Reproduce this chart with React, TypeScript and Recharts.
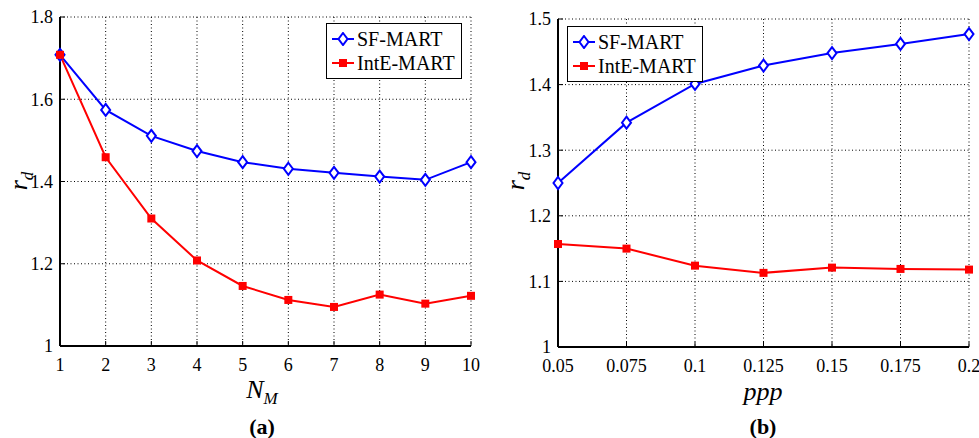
import React from "react";
import { LineChart, Line, XAxis, YAxis, CartesianGrid } from "recharts";

// r_d versus number of MART iterations N_M (panel a)
const nmValues = [1, 2, 3, 4, 5, 6, 7, 8, 9, 10];
const sfMartA = [1.708, 1.574, 1.511, 1.474, 1.447, 1.431, 1.421, 1.412, 1.404, 1.447];
const inteMartA = [1.708, 1.459, 1.31, 1.208, 1.146, 1.112, 1.095, 1.125, 1.103, 1.122];
const yTicksA = [1, 1.2, 1.4, 1.6, 1.8];

// r_d versus particle density ppp (panel b)
const pppValues = [0.05, 0.075, 0.1, 0.125, 0.15, 0.175, 0.2];
const sfMartB = [1.25, 1.342, 1.401, 1.429, 1.448, 1.462, 1.477];
const inteMartB = [1.157, 1.15, 1.124, 1.113, 1.121, 1.119, 1.118];
const yTicksB = [1, 1.1, 1.2, 1.3, 1.4, 1.5];

const SERIES = [
  { key: "sf", name: "SF-MART", color: "#0000ff", marker: "diamond" },
  { key: "inte", name: "IntE-MART", color: "#ff0000", marker: "square" },
];

const FONT = "'Liberation Serif', 'Times New Roman', serif";

const Diamond = (props: any) => {
  const { cx, cy, index } = props;
  if (cx == null || cy == null) return <g key={index} />;
  return (
    <path
      key={index}
      d={`M${cx},${cy - 6}L${cx + 4.5},${cy}L${cx},${cy + 6}L${cx - 4.5},${cy}Z`}
      fill="#fff"
      stroke="#0000ff"
      strokeWidth={2}
    />
  );
};

const Square = (props: any) => {
  const { cx, cy, index } = props;
  if (cx == null || cy == null) return <g key={index} />;
  return <rect key={index} x={cx - 4} y={cy - 4} width={8} height={8} fill="#ff0000" />;
};

function LegendBox({ left, top }: { left: number; top: number }) {
  return (
    <div
      style={{
        position: "absolute",
        left,
        top,
        border: "1px solid #000",
        background: "#fff",
        padding: "3px 6px 3px 5px",
        fontFamily: FONT,
        fontSize: 20,
        lineHeight: "24px",
        color: "#000",
      }}
    >
      {SERIES.map((s) => (
        <div key={s.key} style={{ display: "flex", alignItems: "center" }}>
          <svg width={23} height={14} style={{ marginRight: 2 }}>
            <line x1={0} y1={7} x2={22} y2={7} stroke={s.color} strokeWidth={2} />
            {s.marker === "diamond" ? (
              <path d="M11,1L15.5,7L11,13L6.5,7Z" fill="#fff" stroke={s.color} strokeWidth={2} />
            ) : (
              <rect x={7} y={3} width={8} height={8} fill={s.color} />
            )}
          </svg>
          <span>{s.name}</span>
        </div>
      ))}
    </div>
  );
}

function Panel(props: {
  xs: number[];
  sf: number[];
  inte: number[];
  yTicks: number[];
  width: number;
  margin: { top: number; right: number; left: number; bottom: number };
  yAxisWidth: number;
  xAxisHeight: number;
}) {
  const { xs, sf, inte, yTicks, width, margin, yAxisWidth, xAxisHeight } = props;
  const data = xs.map((x, i) => ({ x, sf: sf[i], inte: inte[i] }));
  const xDomain = [xs[0], xs[xs.length - 1]];
  const yDomain = [yTicks[0], yTicks[yTicks.length - 1]];
  const tick = { fill: "#000", fontSize: 18, fontFamily: FONT };
  const frame = { stroke: "#000", strokeWidth: 2 };
  const tickLine = { stroke: "#000", strokeWidth: 1 };
  return (
    <LineChart width={width} height={438} data={data} margin={margin}>
      <CartesianGrid stroke="#000" strokeDasharray="1 2.5" strokeWidth={1} />
      <XAxis
        dataKey="x"
        type="number"
        domain={xDomain}
        ticks={xs}
        height={xAxisHeight}
        tick={tick}
        tickSize={-5}
        tickMargin={17}
        axisLine={frame}
        tickLine={tickLine}
        interval={0}
      />
      <XAxis
        xAxisId="top"
        orientation="top"
        dataKey="x"
        type="number"
        domain={xDomain}
        ticks={xs}
        height={0}
        tick={false}
        tickSize={-5}
        axisLine={frame}
        tickLine={tickLine}
        interval={0}
      />
      <YAxis
        type="number"
        domain={yDomain}
        ticks={yTicks}
        width={yAxisWidth}
        tick={tick}
        tickSize={-5}
        tickMargin={12}
        axisLine={frame}
        tickLine={tickLine}
        interval={0}
      />
      <YAxis
        yAxisId="right"
        orientation="right"
        type="number"
        domain={yDomain}
        ticks={yTicks}
        width={0}
        tick={false}
        tickSize={-5}
        axisLine={frame}
        tickLine={tickLine}
        interval={0}
      />
      <Line
        dataKey="sf"
        name="SF-MART"
        stroke="#0000ff"
        strokeWidth={2}
        dot={Diamond}
        isAnimationActive={false}
      />
      <Line
        dataKey="inte"
        name="IntE-MART"
        stroke="#ff0000"
        strokeWidth={2}
        dot={Square}
        isAnimationActive={false}
      />
    </LineChart>
  );
}

const abs = (left: number, top: number, extra: React.CSSProperties = {}): React.CSSProperties => ({
  position: "absolute",
  left,
  top,
  transform: "translate(-50%, -50%)",
  fontFamily: FONT,
  color: "#000",
  whiteSpace: "nowrap",
  ...extra,
});

export default function App() {
  return (
    <div
      style={{
        position: "absolute",
        left: 0,
        top: 0,
        width: 979,
        height: 438,
        background: "#fff",
        overflow: "hidden",
      }}
    >
      <div style={{ position: "absolute", left: 0, top: 0 }}>
        <Panel
          xs={nmValues}
          sf={sfMartA}
          inte={inteMartA}
          yTicks={yTicksA}
          width={490}
          margin={{ top: 17, right: 19, left: 0, bottom: 0 }}
          yAxisWidth={60}
          xAxisHeight={92}
        />
      </div>
      <div style={{ position: "absolute", left: 490, top: 0 }}>
        <Panel
          xs={pppValues}
          sf={sfMartB}
          inte={inteMartB}
          yTicks={yTicksB}
          width={489}
          margin={{ top: 19, right: 10, left: 0, bottom: 0 }}
          yAxisWidth={68}
          xAxisHeight={91}
        />
      </div>

      <LegendBox left={326} top={23} />
      <LegendBox left={567} top={26} />

      {/* rotated y labels */}
      <div style={abs(21, 181, { transform: "translate(-50%, -50%) rotate(-90deg)", fontSize: 26, fontStyle: "italic" })}>
        r<sub style={{ fontSize: 17 }}>d</sub>
      </div>
      <div style={abs(518, 181, { transform: "translate(-50%, -50%) rotate(-90deg)", fontSize: 26, fontStyle: "italic" })}>
        r<sub style={{ fontSize: 17 }}>d</sub>
      </div>

      {/* x labels */}
      <div style={abs(262, 392, { fontSize: 26, fontStyle: "italic" })}>
        N<sub style={{ fontSize: 17 }}>M</sub>
      </div>
      <div style={abs(763, 392, { fontSize: 26, fontStyle: "italic" })}>ppp</div>

      {/* panel captions */}
      <div style={abs(262, 427, { fontSize: 22, fontWeight: "bold" })}>(a)</div>
      <div style={abs(763, 427, { fontSize: 22, fontWeight: "bold" })}>(b)</div>
    </div>
  );
}
